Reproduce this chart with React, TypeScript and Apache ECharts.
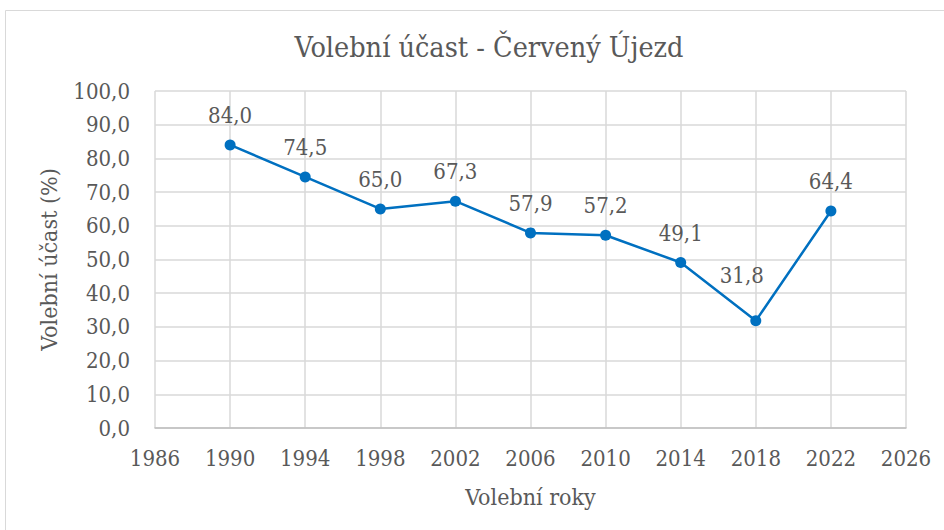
import React, { useEffect, useRef } from "react";
import * as echarts from "echarts";

const years = [1990, 1994, 1998, 2002, 2006, 2010, 2014, 2018, 2022];
const turnout = [84.0, 74.5, 65.0, 67.3, 57.9, 57.2, 49.1, 31.8, 64.4];
const titleText = "Volební účast - Červený Újezd";
const xName = "Volební roky";
const yName = "Volební účast (%)";

const FONT = "DejaVu Serif Condensed, DejaVu Serif";
const TXT = "#595959";

export default function App() {
  const ref = useRef<HTMLDivElement>(null);
  useEffect(() => {
    if (!ref.current) return;
    const chart = echarts.init(ref.current, undefined, { renderer: "svg" });
    const fmt = (v: number) => v.toFixed(1).replace(".", ",");
    chart.setOption({
      animation: false,
      backgroundColor: "#ffffff",
      textStyle: { fontFamily: FONT },
      graphic: [
        {
          type: "rect",
          shape: { x: 5.5, y: 10.5, width: 960, height: 540 },
          style: { fill: "none", stroke: "#d9d9d9", lineWidth: 1 },
          silent: true,
        },
      ],
      title: {
        text: titleText,
        left: 484,
        textAlign: "center",
        top: 28,
        textStyle: { fontFamily: FONT, fontSize: 28.5, fontWeight: "normal", color: TXT },
      },
      grid: { left: 155, right: 38, top: 91, bottom: 102, containLabel: false },
      xAxis: {
        type: "value",
        min: 1986,
        max: 2026,
        interval: 4,
        name: xName,
        nameLocation: "middle",
        nameGap: 57,
        nameTextStyle: { fontFamily: FONT, fontSize: 23, color: TXT },
        axisLine: { show: true, lineStyle: { color: "#bfbfbf", width: 1.5 } },
        axisTick: { show: false },
        axisLabel: { fontFamily: FONT, fontSize: 22, color: TXT, margin: 19, formatter: (v: number) => String(v) },
        splitLine: { show: true, lineStyle: { color: "#d9d9d9", width: 1.5 } },
      },
      yAxis: {
        type: "value",
        min: 0,
        max: 100,
        interval: 10,
        name: yName,
        nameLocation: "middle",
        nameGap: 95,
        nameTextStyle: { fontFamily: FONT, fontSize: 23, color: TXT },
        axisLine: { show: false },
        axisTick: { show: false },
        axisLabel: { fontFamily: FONT, fontSize: 22, color: TXT, margin: 25, formatter: (v: number) => fmt(v) },
        splitLine: { show: true, lineStyle: { color: "#d9d9d9", width: 1.5 } },
      },
      series: [
        {
          type: "line",
          data: years.map((y, i) =>
            y === 2018
              ? { value: [y, turnout[i]], label: { offset: [-14, -16] } }
              : { value: [y, turnout[i]] }
          ),
          symbol: "circle",
          symbolSize: 11,
          itemStyle: { color: "#0070C0" },
          lineStyle: { color: "#0070C0", width: 2.5 },
          label: {
            show: true,
            position: "top",
            distance: 13,
            fontFamily: FONT,
            fontSize: 22,
            color: TXT,
            formatter: (p: any) => fmt(p.value[1]),
          },
        },
      ],
    });
    return () => chart.dispose();
  }, []);
  return (
    <div
      ref={ref}
      style={{ position: "fixed", left: 0, top: 0, width: 944, height: 530 }}
    />
  );
}
